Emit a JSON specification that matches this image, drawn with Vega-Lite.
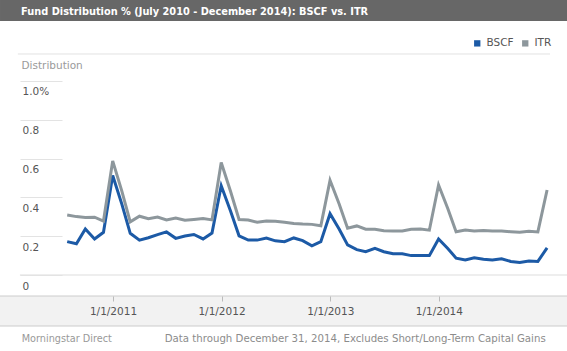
{
  "$schema": "https://vega.github.io/schema/vega-lite/v6.json",
  "width": 505,
  "height": 296,
  "autosize": {"type": "none"},
  "padding": {"left": 62, "top": 0, "right": 0, "bottom": 55},
  "background": "#ffffff",
  "config": {"view": {"stroke": null}, "font": "DejaVu Sans"},
  "datasets": {
    "funds": [
      {"date": "2010-07-31", "BSCF": 0.172, "ITR": 0.309},
      {"date": "2010-08-31", "BSCF": 0.161, "ITR": 0.301},
      {"date": "2010-09-30", "BSCF": 0.237, "ITR": 0.296},
      {"date": "2010-10-31", "BSCF": 0.186, "ITR": 0.298},
      {"date": "2010-11-30", "BSCF": 0.220, "ITR": 0.278},
      {"date": "2010-12-31", "BSCF": 0.513, "ITR": 0.588},
      {"date": "2011-01-31", "BSCF": 0.364, "ITR": 0.431},
      {"date": "2011-02-28", "BSCF": 0.215, "ITR": 0.274},
      {"date": "2011-03-31", "BSCF": 0.180, "ITR": 0.303},
      {"date": "2011-04-30", "BSCF": 0.192, "ITR": 0.290},
      {"date": "2011-05-31", "BSCF": 0.208, "ITR": 0.299},
      {"date": "2011-06-30", "BSCF": 0.222, "ITR": 0.284},
      {"date": "2011-07-31", "BSCF": 0.189, "ITR": 0.294},
      {"date": "2011-08-31", "BSCF": 0.201, "ITR": 0.282},
      {"date": "2011-09-30", "BSCF": 0.209, "ITR": 0.286},
      {"date": "2011-10-31", "BSCF": 0.186, "ITR": 0.291},
      {"date": "2011-11-30", "BSCF": 0.216, "ITR": 0.284},
      {"date": "2011-12-31", "BSCF": 0.460, "ITR": 0.580},
      {"date": "2012-01-31", "BSCF": 0.331, "ITR": 0.433},
      {"date": "2012-02-29", "BSCF": 0.202, "ITR": 0.286},
      {"date": "2012-03-31", "BSCF": 0.180, "ITR": 0.283},
      {"date": "2012-04-30", "BSCF": 0.180, "ITR": 0.272},
      {"date": "2012-05-31", "BSCF": 0.191, "ITR": 0.278},
      {"date": "2012-06-30", "BSCF": 0.176, "ITR": 0.277},
      {"date": "2012-07-31", "BSCF": 0.172, "ITR": 0.272},
      {"date": "2012-08-31", "BSCF": 0.191, "ITR": 0.266},
      {"date": "2012-09-30", "BSCF": 0.177, "ITR": 0.263},
      {"date": "2012-10-31", "BSCF": 0.150, "ITR": 0.261},
      {"date": "2012-11-30", "BSCF": 0.172, "ITR": 0.254},
      {"date": "2012-12-31", "BSCF": 0.316, "ITR": 0.488},
      {"date": "2013-01-31", "BSCF": 0.236, "ITR": 0.365},
      {"date": "2013-02-28", "BSCF": 0.155, "ITR": 0.241},
      {"date": "2013-03-31", "BSCF": 0.131, "ITR": 0.253},
      {"date": "2013-04-30", "BSCF": 0.120, "ITR": 0.236},
      {"date": "2013-05-31", "BSCF": 0.137, "ITR": 0.236},
      {"date": "2013-06-30", "BSCF": 0.120, "ITR": 0.228},
      {"date": "2013-07-31", "BSCF": 0.110, "ITR": 0.227},
      {"date": "2013-08-31", "BSCF": 0.109, "ITR": 0.227},
      {"date": "2013-09-30", "BSCF": 0.100, "ITR": 0.236},
      {"date": "2013-10-31", "BSCF": 0.100, "ITR": 0.237},
      {"date": "2013-11-30", "BSCF": 0.100, "ITR": 0.231},
      {"date": "2013-12-31", "BSCF": 0.186, "ITR": 0.464},
      {"date": "2014-01-31", "BSCF": 0.137, "ITR": 0.343},
      {"date": "2014-02-28", "BSCF": 0.087, "ITR": 0.223},
      {"date": "2014-03-31", "BSCF": 0.077, "ITR": 0.232},
      {"date": "2014-04-30", "BSCF": 0.089, "ITR": 0.227},
      {"date": "2014-05-31", "BSCF": 0.081, "ITR": 0.229},
      {"date": "2014-06-30", "BSCF": 0.077, "ITR": 0.227},
      {"date": "2014-07-31", "BSCF": 0.084, "ITR": 0.227},
      {"date": "2014-08-31", "BSCF": 0.070, "ITR": 0.223},
      {"date": "2014-09-30", "BSCF": 0.065, "ITR": 0.220},
      {"date": "2014-10-31", "BSCF": 0.072, "ITR": 0.225},
      {"date": "2014-11-30", "BSCF": 0.070, "ITR": 0.222},
      {"date": "2014-12-31", "BSCF": 0.140, "ITR": 0.438}
    ],
    "one": [{}]
  },
  "layer": [
    {
      "data": {"name": "funds"},
      "transform": [{"fold": ["BSCF", "ITR"], "as": ["fund", "value"]}],
      "mark": {"type": "line", "strokeWidth": 3},
      "encoding": {
        "x": {
          "field": "date", "type": "temporal",
          "scale": {"type": "utc", "domain": [{"year": 2010, "month": 7, "date": 13, "hours": 12, "utc": true}, {"year": 2015, "month": 3, "date": 8, "utc": true}]},
          "axis": {
            "orient": "bottom", "title": null, "grid": false, "zindex": 2, "domain": false,
            "values": [
              {"year": 2011, "month": 1, "date": 1, "utc": true},
              {"year": 2012, "month": 1, "date": 1, "utc": true},
              {"year": 2013, "month": 1, "date": 1, "utc": true},
              {"year": 2014, "month": 1, "date": 1, "utc": true}
            ],
            "format": "%-m/%-d/%Y",
            "tickColor": "#bbbbbb", "tickSize": 5, "tickWidth": 1,
            "labelColor": "#555555", "labelFontSize": 10.5, "labelPadding": 5, "labelBaseline": "top",
            "labelFlush": false, "labelOverlap": false, "labelFont": "DejaVu Sans"
          }
        },
        "y": {
          "field": "value", "type": "quantitative",
          "scale": {"domain": [-0.1082, 1.4175], "nice": false, "zero": false},
          "axis": {
            "orient": "left", "values": [0, 0.2, 0.4, 0.6, 0.8, 1.0], "zindex": 2,
            "grid": false, "domain": false, "tickSize": 42, "tickColor": "#e3e3e3", "tickWidth": 1,
            "labelAlign": "left", "labelPadding": -2, "labelBaseline": "middle", "labelOffset": 11,
            "labelExpr": "datum.value == 1 ? '1.0%' : (datum.value == 0 ? '0' : format(datum.value, '.1f'))",
            "labelColor": "#555555", "labelFontSize": 10.5, "labelFont": "DejaVu Sans",
            "title": "Distribution", "titleAngle": 0, "titleAlign": "left", "titleBaseline": "middle",
            "titleX": -41, "titleY": 65, "titleColor": "#9a9a9a", "titleFontWeight": "normal",
            "titleFontSize": 10.5, "titleFont": "DejaVu Sans"
          }
        },
        "color": {
          "field": "fund", "type": "nominal",
          "scale": {"domain": ["BSCF", "ITR"], "range": ["#1c5aa6", "#8d979c"]},
          "legend": {
            "orient": "none", "legendX": 410, "legendY": 38, "direction": "horizontal", "title": null,
            "symbolType": "square", "symbolSize": 40, "labelFontSize": 10.5, "labelColor": "#555555",
            "labelFont": "DejaVu Sans", "columnPadding": 6, "labelOffset": 4,
            "encode": {"symbols": {"update": {"fill": {"scale": "color", "field": "value"}, "strokeWidth": {"value": 0}}}}
          }
        }
      }
    },
    {
      "data": {"name": "one"},
      "mark": {"type": "rect", "color": "#676767"},
      "encoding": {
        "x": {"datum": {"year": 2009, "month": 12, "date": 17, "utc": true}, "type": "temporal"},
        "x2": {"datum": {"year": 2015, "month": 3, "date": 8, "utc": true}},
        "y": {"datum": 1.4175, "type": "quantitative"},
        "y2": {"datum": 1.3092}
      }
    },
    {
      "data": {"name": "one"},
      "mark": {"type": "text", "text": "Fund Distribution % (July 2010 - December 2014): BSCF vs. ITR", "align": "left", "baseline": "middle", "color": "#ffffff", "fontSize": 9.8, "fontWeight": "bold", "font": "DejaVu Sans"},
      "encoding": {
        "x": {"datum": {"year": 2010, "month": 2, "date": 26, "utc": true}, "type": "temporal"},
        "y": {"datum": 1.3577, "type": "quantitative"}
      }
    },
    {
      "data": {"name": "one"},
      "mark": {"type": "rect", "color": "#f2f2f2"},
      "encoding": {
        "x": {"datum": {"year": 2009, "month": 12, "date": 17, "utc": true}, "type": "temporal"},
        "x2": {"datum": {"year": 2015, "month": 3, "date": 8, "utc": true}},
        "y": {"datum": -0.1082, "type": "quantitative"},
        "y2": {"datum": -0.2629}
      }
    },
    {
      "data": {"name": "one"},
      "mark": {"type": "rule", "color": "#cccccc", "strokeWidth": 1},
      "encoding": {
        "x": {"datum": {"year": 2009, "month": 12, "date": 17, "utc": true}, "type": "temporal"},
        "x2": {"datum": {"year": 2015, "month": 3, "date": 8, "utc": true}},
        "y": {"datum": -0.2629, "type": "quantitative"}
      }
    },
    {
      "data": {"name": "one"},
      "mark": {"type": "rule", "color": "#cccccc", "strokeWidth": 1},
      "encoding": {
        "x": {"datum": {"year": 2009, "month": 12, "date": 17, "utc": true}, "type": "temporal"},
        "x2": {"datum": {"year": 2015, "month": 3, "date": 8, "utc": true}},
        "y": {"datum": -0.1082, "type": "quantitative"}
      }
    },
    {
      "data": {"name": "one"},
      "mark": {"type": "rule", "color": "#e2e2e2", "strokeWidth": 1},
      "encoding": {
        "x": {"datum": {"year": 2010, "month": 2, "date": 15, "utc": true}, "type": "temporal"},
        "x2": {"datum": {"year": 2015, "month": 1, "date": 10, "utc": true}},
        "y": {"datum": 1.1392, "type": "quantitative"}
      }
    },
    {
      "data": {"name": "one"},
      "mark": {"type": "rule", "color": "#dddddd", "strokeWidth": 1},
      "encoding": {
        "x": {"datum": {"year": 2010, "month": 2, "date": 22, "utc": true}, "type": "temporal"},
        "x2": {"datum": {"year": 2015, "month": 3, "date": 8, "utc": true}},
        "y": {"datum": 0, "type": "quantitative"}
      }
    },
    {
      "data": {"name": "one"},
      "mark": {"type": "text", "text": "Morningstar Direct", "align": "left", "baseline": "middle", "color": "#999999", "fontSize": 9.7, "font": "DejaVu Sans"},
      "encoding": {
        "x": {"datum": {"year": 2010, "month": 2, "date": 28, "utc": true}, "type": "temporal"},
        "y": {"datum": -0.330, "type": "quantitative"}
      }
    },
    {
      "data": {"name": "one"},
      "mark": {"type": "text", "text": "Data through December 31, 2014, Excludes Short/Long-Term Capital Gains", "align": "left", "baseline": "middle", "color": "#8c8c8c", "fontSize": 10.2, "font": "DejaVu Sans"},
      "encoding": {
        "x": {"datum": {"year": 2011, "month": 6, "date": 24, "utc": true}, "type": "temporal"},
        "y": {"datum": -0.330, "type": "quantitative"}
      }
    }
  ]
}
